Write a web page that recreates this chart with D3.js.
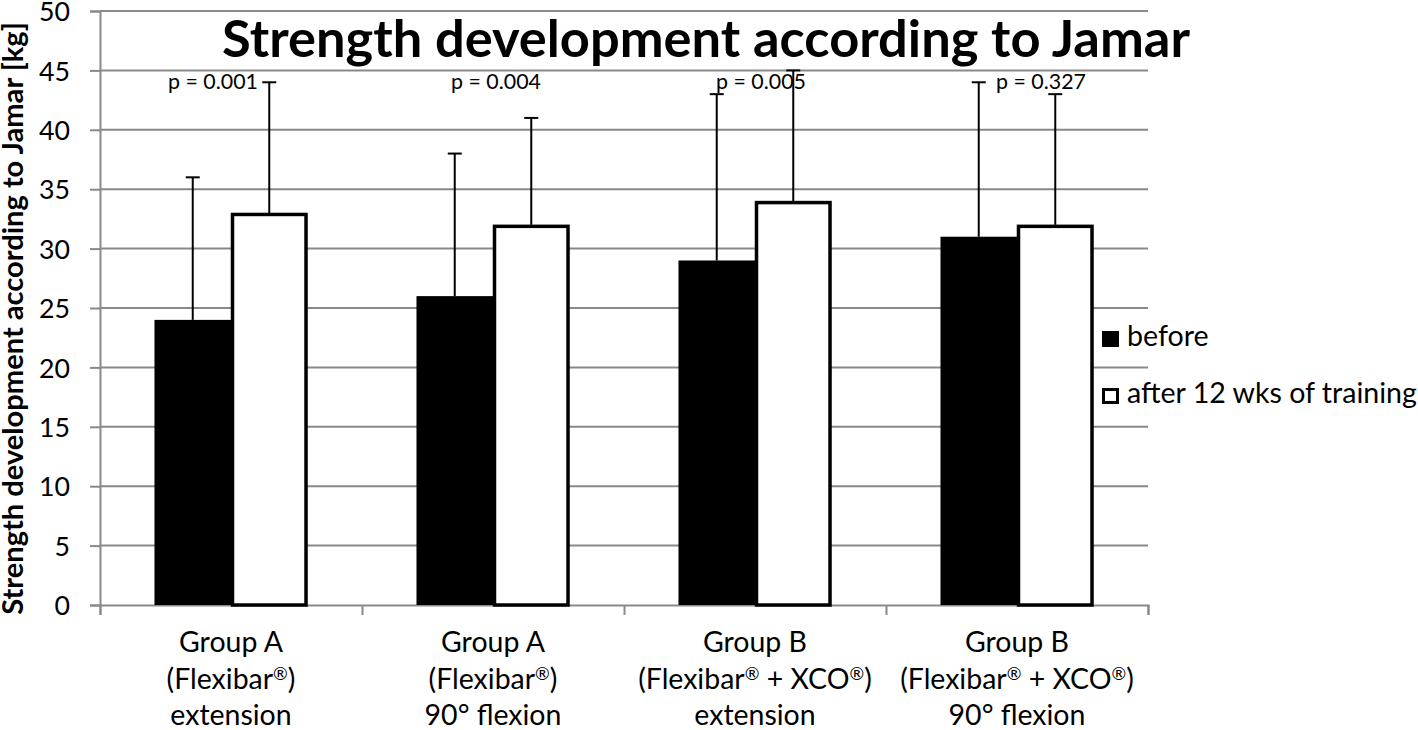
<!DOCTYPE html>
<html><head><meta charset="utf-8">
<script src="https://cdn.jsdelivr.net/npm/d3@7"></script>
<style>html,body{margin:0;padding:0;background:#fff;}svg{display:block;}</style>
</head><body>
<svg id="chart" width="1418" height="730"></svg>
<script>
// ---- data ----
const categories = [
  ["Group A", "(Flexibar®)", "extension"],
  ["Group A", "(Flexibar®)", "90° flexion"],
  ["Group B", "(Flexibar® + XCO®)", "extension"],
  ["Group B", "(Flexibar® + XCO®)", "90° flexion"]
];
const seriesNames = ["before", "after 12 wks of training"];
const beforeValues = [24, 26, 29, 31];
const beforeSD = [12, 12, 14, 13];
const afterValues = [33, 32, 34, 32];
const afterSD = [11, 9, 11, 11];
const pLabels = ["p = 0.001", "p = 0.004", "p = 0.005", "p = 0.327"];
const yTicks = [0, 5, 10, 15, 20, 25, 30, 35, 40, 45, 50];
const titleText = "Strength development according to Jamar";
const yTitleText = "Strength development according to Jamar [kg]";

// ---- layout ----
const FONT = "Lato, 'Open Sans', sans-serif";
const plot = {left: 100, right: 1148, top: 11, bottom: 605};
const pLabelDx = [-18, 3, 6, 24];
const pLabelValue = 43.4;
const gridColor = "#898989";

const svg = d3.select("#chart");

function fitSize(text, weight, targetW) {
  const t = svg.append("text").attr("font-family", FONT).attr("font-weight", weight)
    .attr("font-size", 100).text(text);
  const w = t.node().getComputedTextLength();
  t.remove();
  return 100 * targetW / w;
}

// write a string into a text element, rendering ® as a small raised mark
function writeRich(textSel, s, fs) {
  const parts = s.split("®");
  parts.forEach((p, k) => {
    if (k > 0) {
      textSel.append("tspan").attr("font-size", fs * 0.62).attr("dy", -fs * 0.33).text("®");
      textSel.append("tspan").attr("dy", fs * 0.33).text(p);
    } else {
      textSel.append("tspan").text(p);
    }
  });
}

const x0 = d3.scaleBand().domain(d3.range(categories.length)).range([plot.left, plot.right]).padding(0);
const x1 = d3.scaleBand().domain([0, 1]).range([0, x0.bandwidth()]).paddingInner(0).paddingOuter(0.712);
const y = d3.scaleLinear().domain([0, 50]).range([plot.bottom, plot.top]);

// gridlines
svg.append("g").selectAll("line").data(yTicks.filter(d => d > 0)).join("line")
  .attr("x1", plot.left).attr("x2", plot.right)
  .attr("y1", d => y(d)).attr("y2", d => y(d))
  .attr("stroke", gridColor).attr("stroke-width", 2);

// y axis
const tickFs = fitSize("50", 400, 31);
const yAxis = svg.append("g").attr("transform", `translate(${plot.left},0)`)
  .call(d3.axisLeft(y).tickValues(yTicks).tickSize(10).tickPadding(20));
yAxis.select(".domain").attr("stroke", gridColor).attr("stroke-width", 2);
yAxis.selectAll(".tick line").attr("stroke", gridColor).attr("stroke-width", 2);
yAxis.selectAll(".tick text").attr("font-family", FONT).attr("font-size", tickFs).attr("fill", "#000")
  .attr("dy", "0.36em");

// x axis
const xAxis = svg.append("g").attr("transform", `translate(0,${plot.bottom})`)
  .call(d3.axisBottom(d3.scaleLinear().domain([0, categories.length]).range([plot.left, plot.right]))
    .tickValues(d3.range(categories.length + 1)).tickSize(10).tickFormat(""));
xAxis.select(".domain").attr("stroke", gridColor).attr("stroke-width", 2);
xAxis.selectAll(".tick line").attr("stroke", gridColor).attr("stroke-width", 2);

// x labels
const xFs = fitSize("Group A", 400, 104);
const lineBase = [652, 689, 725];
const xl = svg.append("g");
categories.forEach((lines, i) => {
  lines.forEach((s, j) => {
    const t = xl.append("text").attr("x", x0(i) + x0.bandwidth() / 2).attr("y", lineBase[j])
      .attr("text-anchor", "middle").attr("font-family", FONT).attr("font-size", xFs)
      .attr("fill", "#000");
    writeRich(t, s, xFs);
  });
});

// bars
const rows = categories.map((c, i) => [
  {i, s: 0, v: beforeValues[i], sd: beforeSD[i]},
  {i, s: 1, v: afterValues[i], sd: afterSD[i]}
]).flat();

const bars = svg.append("g");
const eb = svg.append("g");
rows.forEach(d => {
  const cx = x0(d.i) + x1(d.s) + x1.bandwidth() / 2;
  eb.append("line").attr("x1", cx).attr("x2", cx).attr("y1", y(d.v)).attr("y2", y(d.v + d.sd))
    .attr("stroke", "#000").attr("stroke-width", 2);
  eb.append("line").attr("x1", cx - 7).attr("x2", cx + 7).attr("y1", y(d.v + d.sd)).attr("y2", y(d.v + d.sd))
    .attr("stroke", "#000").attr("stroke-width", 2);
});
bars.selectAll("rect").data(rows).join("rect")
  .attr("x", d => x0(d.i) + x1(d.s) + (d.s ? 1.5 : 0))
  .attr("width", d => x1.bandwidth() - (d.s ? 3 : 0))
  .attr("y", d => y(d.v) + (d.s ? 1.5 : 0))
  .attr("height", d => y(0) - y(d.v) - (d.s ? 1.5 : 0))
  .attr("fill", d => d.s ? "#fff" : "#000")
  .attr("stroke", d => d.s ? "#000" : "none")
  .attr("stroke-width", 3.5);

// p labels
const pFs = fitSize("p = 0.001", 400, 90);
svg.append("g").selectAll("text").data(pLabels).join("text")
  .attr("x", (d, i) => x0(i) + x0.bandwidth() / 2 + pLabelDx[i])
  .attr("y", y(pLabelValue))
  .attr("text-anchor", "middle").attr("font-family", FONT).attr("font-size", pFs)
  .attr("fill", "#000").text(d => d);

// title
const tFs = fitSize(titleText, 700, 968);
svg.append("text").attr("x", 706).attr("y", 57).attr("text-anchor", "middle")
  .attr("font-family", FONT).attr("font-weight", 700).attr("font-size", tFs)
  .attr("fill", "#000").text(titleText);

// y title
const ytFs = fitSize(yTitleText, 700, 593);
svg.append("text").attr("transform", `translate(23,${(615 + 22) / 2}) rotate(-90)`)
  .attr("text-anchor", "middle").attr("font-family", FONT).attr("font-weight", 700)
  .attr("font-size", ytFs).attr("fill", "#000").text(yTitleText);

// legend
const lFs = fitSize(seriesNames[1], 400, 290);
const legBase = [346, 403];
const leg = svg.append("g");
seriesNames.forEach((n, k) => {
  leg.append("rect").attr("x", k ? 1103.5 : 1102).attr("y", legBase[k] - 15 + (k ? 1.5 : 0))
    .attr("width", k ? 14 : 17).attr("height", k ? 13 : 16)
    .attr("fill", k ? "#fff" : "#000").attr("stroke", k ? "#000" : "none").attr("stroke-width", 3);
  leg.append("text").attr("x", 1127).attr("y", legBase[k]).attr("font-family", FONT)
    .attr("font-size", lFs).attr("fill", "#000").text(n);
});
</script>
</body></html>
